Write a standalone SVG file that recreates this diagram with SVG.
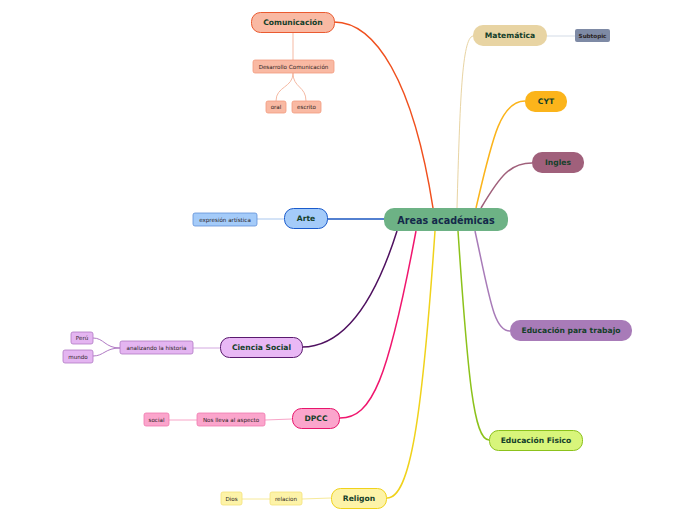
<svg xmlns="http://www.w3.org/2000/svg" width="696" height="520" viewBox="0 0 696 520">
<style>
text{font-family:"DejaVu Sans","Liberation Sans",sans-serif;text-anchor:middle;dominant-baseline:central}
.m{font-size:7.6px;font-weight:bold;fill:#14402a}
.s{font-size:5.6px;fill:#2a2222}
.c{fill:none;stroke-width:1.5}
.t{fill:none;stroke-width:1}
</style>
<rect width="696" height="520" fill="#ffffff"/>
<g id="connectors">
<path class="c" stroke="#f0501e" d="M433,208 C413,80 375,22 334,22"/>
<path class="t" stroke="#f5b9a3" d="M293,32 L293,60"/>
<path class="t" stroke="#f5b9a3" d="M293,73 C293,88 276,86 276,101"/>
<path class="t" stroke="#f5b9a3" d="M293,73 C293,88 306,86 306,101"/>
<path class="t" stroke="#e8d4a3" d="M457,208 C460,100 462,38 473,36"/>
<path class="t" stroke="#d3dbe6" stroke-width="2" d="M547,36 L575,36"/>
<path class="c" stroke="#fbb41b" d="M476,208 C492,140 500,101 525,101"/>
<path class="c" stroke="#a0607b" d="M481,208 C500,176 510,163 532,163"/>
<path class="c" stroke="#a87bb8" d="M475,231 C490,300 494,331 510,331"/>
<path class="c" stroke="#8cc21b" d="M458,231 C468,380 474,440 489,440"/>
<path class="c" stroke="#f0d21b" d="M435,231 C422,420 410,498 387,498"/>
<path class="t" stroke="#f7ea9a" d="M331,498 L302,499"/>
<path class="t" stroke="#f7ea9a" d="M270,499 L242,499"/>
<path class="c" stroke="#f0166e" d="M416,231 C388,380 372,418 340,418"/>
<path class="t" stroke="#f8a5c8" d="M292,419 L265,420"/>
<path class="t" stroke="#f8a5c8" d="M197,420 L169,420"/>
<path class="c" stroke="#4f1160" d="M397,231 C372,310 340,347 302,347"/>
<path class="t" stroke="#d3a8e0" d="M220,348 L193,348"/>
<path class="t" stroke="#b07ac4" d="M120,348 C105,348 104,338 93,338"/>
<path class="t" stroke="#b07ac4" d="M120,348 C105,348 104,356 93,356"/>
<path class="c" stroke="#1a56c0" d="M384,219 L327,219"/>
<path class="t" stroke="#a9c7ee" stroke-width="1.5" d="M284,219 L257,219"/>
</g>
<g id="center"><rect x="384" y="208" width="124" height="23" rx="10" fill="#6db285"/><text x="446" y="220" font-size="9.6" font-weight="bold" fill="#14294a">Areas académicas</text></g>
<g id="comunicacion"><rect x="251.5" y="12.5" width="83" height="20" rx="9" fill="#f9b9a3" stroke="#ea5a30"/><text class="m" x="293" y="22.5">Comunicación</text></g>
<g id="desarrollo"><rect x="253" y="60" width="81" height="13" rx="2" fill="#f9b9a3" stroke="#f29b7d" stroke-width="0.8"/><text class="s" x="293.5" y="66.7">Desarrollo Comunicación</text></g>
<g id="oral"><rect x="266" y="101" width="20" height="12" rx="2" fill="#f9b9a3" stroke="#f29b7d" stroke-width="0.8"/><text class="s" x="276" y="107.2">oral</text></g>
<g id="escrito"><rect x="292" y="101" width="29" height="12" rx="2" fill="#f9b9a3" stroke="#f29b7d" stroke-width="0.8"/><text class="s" x="306.5" y="107.2">escrito</text></g>
<g id="matematica"><rect x="473" y="25" width="74" height="21" rx="10" fill="#e8d4a3"/><text class="m" x="510" y="35.7">Matemática</text></g>
<g id="subtopic"><rect x="575" y="29" width="35" height="13" rx="2" fill="#7e8aa5"/><text class="s" x="592.5" y="35.7" fill="#1c2a3a" font-weight="bold">Subtopic</text></g>
<g id="cyt"><rect x="525" y="91" width="42" height="21" rx="10" fill="#fbb41b"/><text class="m" x="546" y="101.7" fill="#111">CYT</text></g>
<g id="ingles"><rect x="532" y="152" width="52" height="21" rx="10" fill="#a0607b"/><text class="m" x="558" y="162.7">Ingles</text></g>
<g id="trabajo"><rect x="510" y="320" width="122" height="21" rx="10" fill="#a87bb8"/><text class="m" x="571" y="330.7">Educación para trabajo</text></g>
<g id="fisico"><rect x="489.5" y="430.5" width="93" height="20" rx="9" fill="#d8f57b" stroke="#8cc21b"/><text class="m" x="536" y="440.5">Educación Fisico</text></g>
<g id="religon"><rect x="331.5" y="488.5" width="55" height="20" rx="9" fill="#fdf3a8" stroke="#f0d21b"/><text class="m" x="359" y="498.5">Religon</text></g>
<g id="relacion"><rect x="270" y="492" width="32" height="13" rx="2" fill="#fdf3a8" stroke="#f4e27a" stroke-width="0.8"/><text class="s" x="286" y="498.7">relacion</text></g>
<g id="dios"><rect x="221" y="492" width="21" height="13" rx="2" fill="#fdf3a8" stroke="#f4e27a" stroke-width="0.8"/><text class="s" x="231.5" y="498.7">Dios</text></g>
<g id="dpcc"><rect x="292.5" y="408.5" width="47" height="20" rx="9" fill="#fba5cc" stroke="#e8156c"/><text class="m" x="316" y="418.5">DPCC</text></g>
<g id="nos"><rect x="197" y="413" width="68" height="13" rx="2" fill="#fba5cc" stroke="#f07aae" stroke-width="0.8"/><text class="s" x="231" y="419.7">Nos lleva al aspecto</text></g>
<g id="social"><rect x="144" y="413" width="25" height="13" rx="2" fill="#fba5cc" stroke="#f07aae" stroke-width="0.8"/><text class="s" x="156.5" y="419.7">social</text></g>
<g id="ciencia"><rect x="220.5" y="337.5" width="82" height="20" rx="9" fill="#e9b8f5" stroke="#5a1a6e"/><text class="m" x="261.5" y="347.5">Ciencia Social</text></g>
<g id="analizando"><rect x="120" y="341" width="73" height="13" rx="2" fill="#e4b5f1" stroke="#b07ac4" stroke-width="0.8"/><text class="s" x="156.5" y="347.7">analizando la historia</text></g>
<g id="peru"><rect x="71" y="332" width="22" height="12" rx="2" fill="#e4b5f1" stroke="#b07ac4" stroke-width="0.8"/><text class="s" x="82" y="338.2">Perú</text></g>
<g id="mundo"><rect x="63" y="350" width="30" height="13" rx="2" fill="#e4b5f1" stroke="#b07ac4" stroke-width="0.8"/><text class="s" x="78" y="356.7">mundo</text></g>
<g id="arte"><rect x="284.5" y="208.5" width="43" height="20" rx="9" fill="#a4cbf9" stroke="#1a5bcc"/><text class="m" x="306" y="218.5">Arte</text></g>
<g id="expresion"><rect x="193" y="213" width="64" height="13" rx="2" fill="#a4cbf9" stroke="#5f90d8" stroke-width="0.8"/><text class="s" x="225" y="219.7">expresión artística</text></g>
</svg>
